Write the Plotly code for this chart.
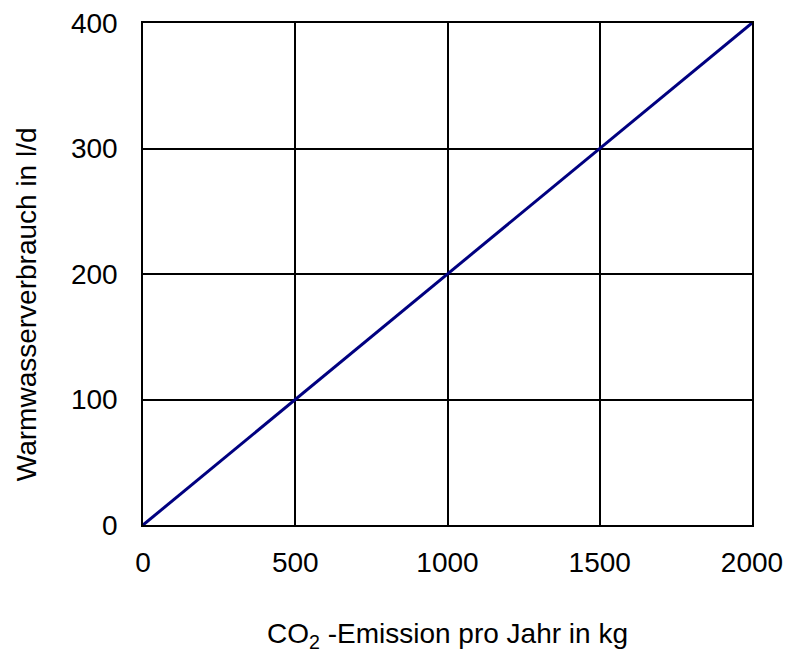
import plotly.graph_objects as go

emission_kg = [0, 500, 1000, 1500, 2000]
warmwasser_l_d = [0, 100, 200, 300, 400]
x_ticks = [0, 500, 1000, 1500, 2000]
y_ticks = [0, 100, 200, 300, 400]
x_title = "CO<sub>2</sub> -Emission pro Jahr in kg"
y_title = "Warmwasserverbrauch in l/d"

fig = go.Figure()
fig.add_trace(go.Scatter(x=emission_kg, y=warmwasser_l_d, mode="lines",
                         line=dict(color="#000080", width=3), showlegend=False,
                         hoverinfo="skip"))

font = dict(family="Liberation Sans, Arial, sans-serif", size=28, color="black")
fig.update_layout(
    width=788, height=662,
    margin=dict(l=143, r=36, t=23, b=137),
    paper_bgcolor="white", plot_bgcolor="white",
    font=font,
    xaxis=dict(range=[0, 2000], tickvals=x_ticks, showgrid=True, gridcolor="black", gridwidth=1.5,
               showline=True, linecolor="black", linewidth=1.5, mirror=True, zeroline=False,
               ticks="", ticklabelstandoff=12, tickfont=font, automargin=False,
               ticklabeloverflow="allow",
               title=dict(text=x_title, font=font, standoff=46)),
    yaxis=dict(range=[0, 400], tickvals=y_ticks, showgrid=True, gridcolor="black", gridwidth=1.5,
               showline=True, linecolor="black", linewidth=1.5, mirror=True, zeroline=False,
               ticks="", ticklabelstandoff=18, tickfont=font, automargin=False,
               ticklabeloverflow="allow"),
    annotations=[dict(text=y_title, textangle=-90, xref="paper", yref="paper",
                      x=-0.192, y=0.44, xanchor="center", yanchor="middle",
                      showarrow=False, font=font)],
)
fig.write_html("out.html", config={"displayModeBar": False},
               post_script="document.body.style.margin='0px';document.body.style.overflow='hidden';")
